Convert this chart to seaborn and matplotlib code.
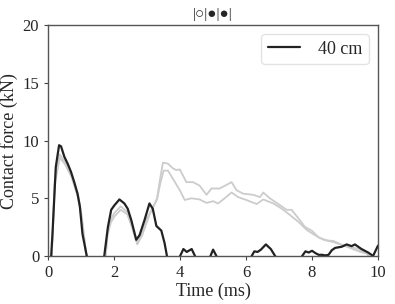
import numpy as np
import pandas as pd
import matplotlib
matplotlib.use("Agg")
import matplotlib.pyplot as plt
import seaborn as sns

# black trace, 40 cm (drops just below zero where the trace vanishes)
t_black = [0.0, 0.08, 0.13, 0.23, 0.33, 0.39, 0.49, 0.59, 0.69, 0.79, 0.89, 0.96, 1.04, 1.17,
           1.25, 1.62, 1.70, 1.81, 1.91, 2.01, 2.16, 2.31, 2.41, 2.52, 2.67, 2.77, 2.92, 3.07,
           3.17, 3.28, 3.43, 3.53, 3.60, 3.68, 3.92, 4.00, 4.10, 4.20, 4.35, 4.45, 4.52, 4.85,
           4.92, 5.00, 5.10, 5.17, 6.10, 6.17, 6.25, 6.35, 6.45, 6.60, 6.75, 6.88, 6.95, 7.62,
           7.70, 7.80, 7.90, 8.00, 8.10, 8.20, 8.30, 8.40, 8.50, 8.60, 8.70, 8.90, 9.05, 9.20,
           9.30, 9.50, 9.70, 9.85, 10.0]
f_black = [-0.5, -0.5, 1.9, 7.7, 9.6, 9.5, 8.6, 8.0, 7.3, 6.4, 5.4, 4.3, 1.9, 0.0,
           -0.5, -0.5, 0.0, 2.5, 4.0, 4.4, 4.9, 4.55, 4.1, 3.1, 1.4, 1.8, 3.1, 4.55,
           4.1, 2.6, 2.2, 1.1, 0.0, -0.5, -0.5, 0.0, 0.6, 0.35, 0.6, 0.0, -0.5, -0.5,
           0.0, 0.55, 0.0, -0.5, -0.5, 0.0, 0.4, 0.35, 0.55, 1.0, 0.6, 0.0, -0.5, -0.5,
           0.0, 0.4, 0.3, 0.45, 0.25, 0.1, 0.1, 0.05, 0.1, 0.5, 0.7, 0.8, 1.0, 0.85,
           1.0, 0.6, 0.3, 0.0, 0.9]

# grey trace A (upper tail)
t_grey_a = [0.0, 0.1, 0.2, 0.35, 0.5, 0.7, 0.9, 1.0, 1.1, 1.18, 1.72, 1.8, 1.9, 2.0, 2.2, 2.4,
            2.55, 2.7, 2.85, 3.0, 3.15, 3.3, 3.4, 3.48, 3.63, 3.78, 3.88, 3.99, 4.19, 4.39,
            4.59, 4.8, 4.95, 5.2, 5.4, 5.56, 5.71, 5.91, 6.22, 6.42, 6.52, 6.72, 7.03, 7.23,
            7.38, 7.59, 7.79, 7.99, 8.2, 8.45, 8.65, 8.96, 9.36, 9.67, 9.87, 10.0]
f_grey_a = [-0.5, -0.5, 6.5, 8.8, 8.2, 7.1, 5.3, 3.8, 1.5, -0.5, -0.5, 2.0, 3.2, 3.7, 4.3, 3.8,
            2.5, 1.1, 2.0, 3.3, 4.0, 5.0, 6.8, 8.1, 8.0, 7.6, 7.45, 7.5, 6.4, 6.4,
            6.1, 5.3, 5.85, 5.85, 6.15, 6.4, 5.7, 5.4, 5.3, 5.1, 5.5, 5.0, 4.4, 4.0,
            4.0, 3.25, 2.5, 2.2, 1.6, 1.35, 1.3, 0.9, 0.65, 0.2, -0.5, -0.5]

# grey trace B (lower tail)
t_grey_b = [0.0, 0.1, 0.2, 0.35, 0.5, 0.7, 0.9, 1.0, 1.1, 1.17, 1.73, 1.8, 1.9, 2.0, 2.2, 2.4,
            2.55, 2.7, 2.85, 3.1, 3.3, 3.4, 3.5, 3.63, 3.78, 3.99, 4.14, 4.34, 4.59, 4.8, 5.0,
            5.15, 5.35, 5.56, 5.76, 6.01, 6.32, 6.52, 6.83, 7.08, 7.33, 7.59, 7.84, 8.09,
            8.35, 8.65, 9.06, 9.46, 9.67, 9.77, 10.0]
f_grey_b = [-0.5, -0.5, 6.2, 8.5, 8.0, 6.9, 5.1, 3.6, 1.3, -0.5, -0.5, 1.8, 2.9, 3.4, 4.0, 3.6,
            2.4, 1.0, 1.8, 3.8, 4.9, 6.3, 7.4, 7.4, 6.7, 5.7, 4.85, 5.0, 4.9, 4.6, 4.75,
            4.55, 5.0, 5.5, 5.1, 4.85, 4.5, 4.9, 4.55, 4.1, 3.55, 2.95, 2.25, 1.8,
            1.4, 1.2, 0.8, 0.35, 0.2, -0.5, -0.5]

x_ticks = [0, 2, 4, 6, 8, 10]
y_ticks = [0, 5, 10, 15, 20]

sns.set_style("ticks")
plt.rcParams['font.family'] = ['Liberation Serif', 'DejaVu Sans']

fig, ax = plt.subplots(figsize=(3.95, 3.04), dpi=100)

df_a = pd.DataFrame({"t": t_grey_a, "f": f_grey_a})
df_b = pd.DataFrame({"t": t_grey_b, "f": f_grey_b})
df_k = pd.DataFrame({"t": t_black, "f": f_black})

sns.lineplot(data=df_a, x="t", y="f", ax=ax, color="#cccccc", lw=1.3, label="_nolegend_")
sns.lineplot(data=df_b, x="t", y="f", ax=ax, color="#cccccc", lw=1.3, label="_nolegend_")
sns.lineplot(data=df_k, x="t", y="f", ax=ax, color="#222222", lw=1.6, label="40 cm")

ax.set_xlim(0, 10)
ax.set_ylim(0, 20)
ax.set_xticks(x_ticks)
ax.set_yticks(y_ticks)
ax.tick_params(labelsize=12, length=3, color="#444444")
ax.set_xlabel("Time (ms)", fontsize=13, labelpad=1)
ax.set_ylabel("Contact force (kN)", fontsize=13, labelpad=3)
ax.set_title("|○|●|●|", fontsize=11, pad=5)
for s in ax.spines.values():
    s.set_color("#555555")
    s.set_linewidth(1.0)

leg = ax.legend(loc="upper right", fontsize=13, handlelength=1.8, borderpad=0.35,
                handletextpad=1.0)
leg.get_frame().set_edgecolor("#dddddd")

fig.subplots_adjust(left=0.122, right=0.957, top=0.917, bottom=0.158)
fig.savefig("out.png", dpi=100)
